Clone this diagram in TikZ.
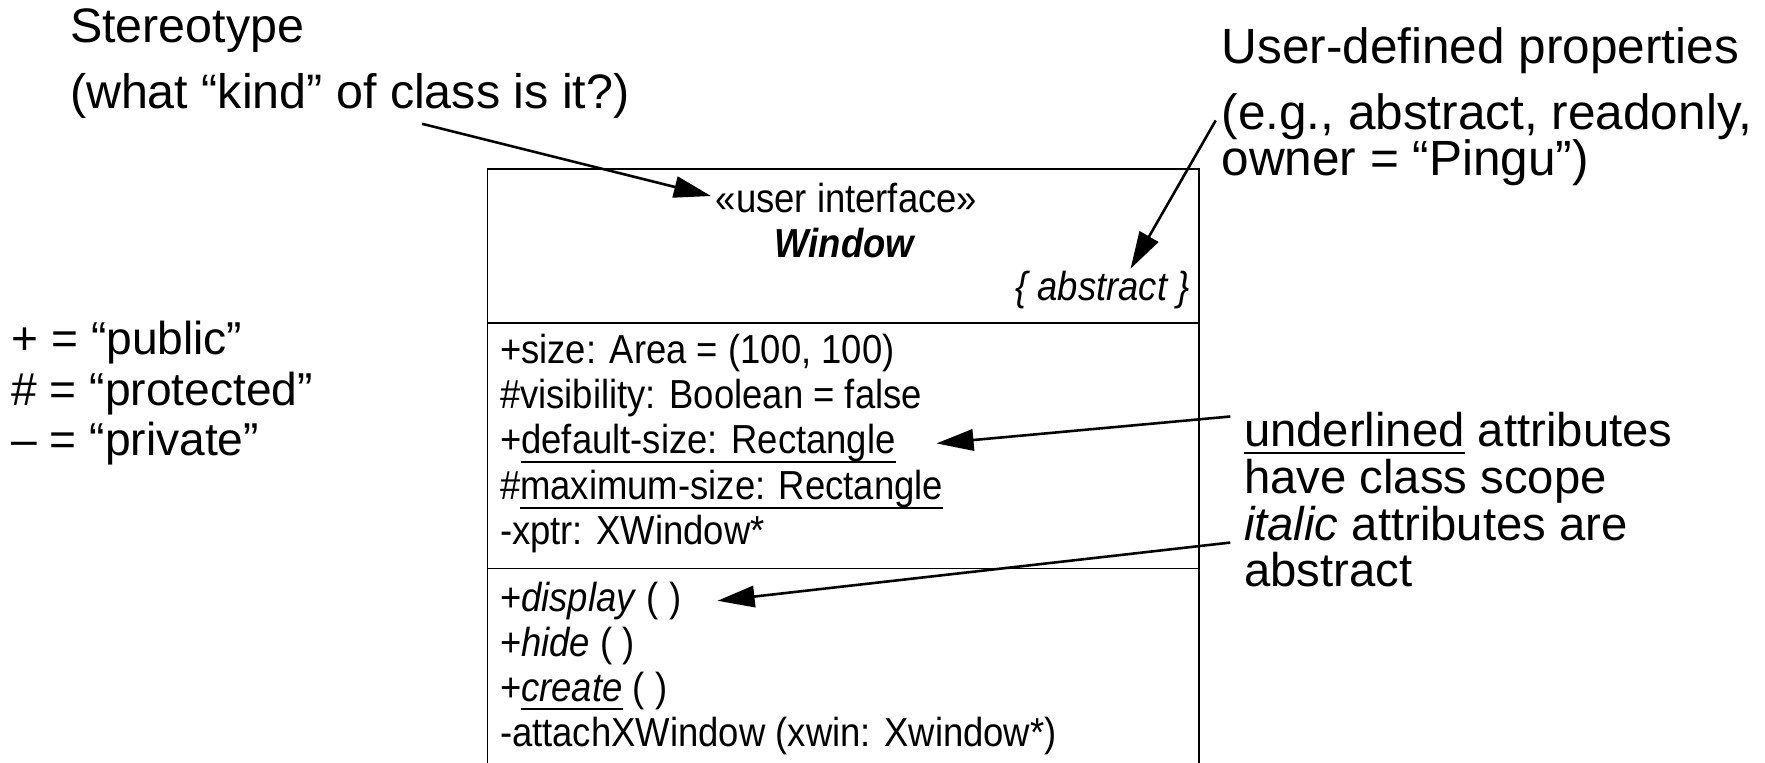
\documentclass[tikz,border=0pt]{standalone}
\usepackage{fontspec}
\setmainfont{Liberation Sans}
\newfontfamily\clsfont[FakeStretch=0.9]{Liberation Sans}
\usetikzlibrary{arrows.meta}
\newcommand\myul[2][0.22em]{\setbox0\hbox{#2}\rlap{\rule[-#1]{\wd0}{0.05em}}\box0\relax}
\begin{document}
\begin{tikzpicture}[x=1pt,y=1pt,
  ann/.style={anchor=base west, inner sep=0pt, font=\fontsize{42}{45}\selectfont},
  cls/.style={anchor=base west, inner sep=0pt, font=\clsfont\fontsize{36}{40}\selectfont},
  pointer/.style={line width=2.3pt, -{Triangle[length=33pt,width=19pt]}},
  boxline/.style={line width=1.3pt}]
\clip (0,0) rectangle (1568,-677);
\fill[white] (0,0) rectangle (1568,-677);
% class box
\draw[boxline] (433,-150) rectangle (1065,-720);
\draw[boxline] (433,-287) -- (1065,-287);
\draw[boxline] (433,-505) -- (1065,-505);
% name compartment
\node[cls, anchor=base] (uif) at (752,-189) {«user interface»};
\node[cls, anchor=base] (win) at (750,-229) {\bfseries\itshape Window};
\node[cls, anchor=base east] (abs) at (1057,-267) {\itshape \{ abstract \}};
% attributes
\node[cls] (a1) at (444,-323) {+size: Area = (100, 100)};
\node[cls] (a2) at (444,-363) {\#visibility: Boolean = false};
\node[cls] (a3) at (444,-403) {+\myul{default-size: Rectangle}};
\node[cls] (a4) at (444,-444) {\#\myul{maximum-size: Rectangle}};
\node[cls] (a5) at (444,-484) {-xptr: XWindow*};
% operations
\node[cls] (o1) at (444,-543) {+\textit{display} ( )};
\node[cls] (o2) at (444,-583) {+\textit{hide} ( )};
\node[cls] (o3) at (444,-623) {+\myul{\textit{create}} ( )};
\node[cls] (o4) at (444,-663) {-attachXWindow (xwin: Xwindow*)};
% annotations
\node[ann, font=\fontsize{43}{45}\selectfont] (st1) at (62,-38) {Stereotype};
\node[ann, font=\fontsize{43}{45}\selectfont] (st2) at (62,-96) {(what “kind” of class is it?)};
\node[ann, font=\fontsize{44}{45}\selectfont] (ud1) at (1085,-56) {User-defined properties};
\node[ann, font=\fontsize{44}{45}\selectfont] (ud2) at (1085,-115) {(e.g., abstract, readonly,};
\node[ann, font=\fontsize{44}{45}\selectfont] (ud3) at (1085,-156) {owner = “Pingu”)};
\node[ann, font=\fontsize{41}{45}\selectfont] (lg1) at (10,-315) {+ = “public”};
\node[ann, font=\fontsize{41}{45}\selectfont] (lg2) at (10,-360) {\# = “protected”};
\node[ann, font=\fontsize{41}{45}\selectfont] (lg3) at (10,-405) {– = “private”};
\node[ann] (ul1) at (1105,-397) {\myul[0.16em]{underlined} attributes};
\node[ann] (ul2) at (1105,-438) {have class scope};
\node[ann] (it1) at (1105,-480) {\textit{italic} attributes are};
\node[ann] (it2) at (1105,-521) {abstract};
% pointers
\coordinate (p1) at (375,-110);
\coordinate (p2) at (1080,-107);
\coordinate (p3) at (1093,-370);
\coordinate (p4) at (1093,-482);
\draw[pointer] (p1) -- ([xshift=-4pt,yshift=2pt]uif.west);
\draw[pointer] (p2) -- ([xshift=25pt,yshift=2pt]abs.north);
\draw[pointer] (p3) -- ([xshift=36pt]a3.east);
\draw[pointer] (p4) -- ([xshift=32pt]o1.east);
\end{tikzpicture}
\end{document}
